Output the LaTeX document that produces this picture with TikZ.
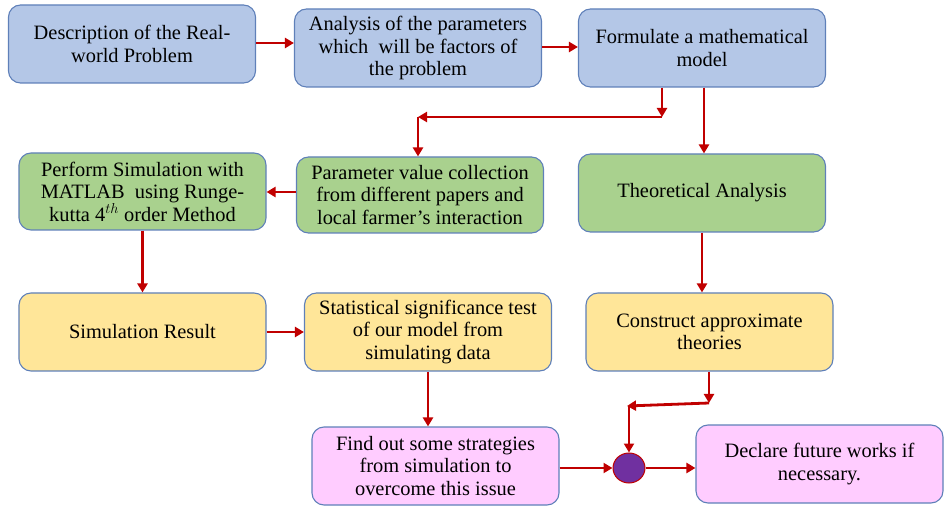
\documentclass[tikz,border=0pt]{standalone}
\usepackage{fontspec}
\setmainfont{Liberation Serif}
\usetikzlibrary{arrows.meta,shapes.geometric}
\definecolor{bluef}{RGB}{180,199,231}
\definecolor{greenf}{RGB}{169,209,142}
\definecolor{yellowf}{RGB}{255,230,153}
\definecolor{pinkf}{RGB}{255,204,255}
\definecolor{edgec}{RGB}{95,128,185}
\definecolor{arrowc}{RGB}{192,0,0}
\definecolor{purplef}{RGB}{112,48,160}
\tikzset{
  boxs/.style={draw=edgec, line width=1.1pt, rounded corners=12pt, align=center,
    minimum width=247pt, minimum height=78pt, inner sep=2pt,
    font=\fontsize{20.4}{22.5}\selectfont},
  conn/.style={draw=arrowc, line width=2.8pt, -{Triangle[length=9pt,width=10pt]}},
}
\begin{document}
\begin{tikzpicture}[x=1pt,y=-1pt]
\useasboundingbox (0,0) rectangle (951,521);
\node[boxs, fill=bluef] (b1) at (132,44) {Description of the Real-\\world Problem};
\node[boxs, fill=bluef] (b2) at (418,48) {Analysis of the parameters\\which\ \ will be factors of\\the problem};
\node[boxs, fill=bluef] (b3) at (702,48) {Formulate a mathematical\\model};
\node[boxs, fill=greenf, minimum height=77pt] (b4) at (142.5,191.5) {Perform Simulation with\\MATLAB\ \ using Runge-\\kutta 4$^{th}$ order Method};
\node[boxs, fill=greenf, minimum height=76pt] (b5) at (420,195) {Parameter value collection\\from different papers and\\local farmer’s interaction};
\node[boxs, fill=greenf] (b6) at (702,193) {Theoretical Analysis};
\node[boxs, fill=yellowf] (b7) at (142.5,332) {Simulation Result};
\node[boxs, fill=yellowf] (b8) at (428,332) {Statistical significance test\\of our model from\\simulating data};
\node[boxs, fill=yellowf] (b9) at (709.5,332) {Construct approximate\\theories};
\node[boxs, fill=pinkf] (b10) at (435.5,466) {Find out some strategies\\from simulation to\\overcome this issue};
\node[boxs, fill=pinkf] (b11) at (819.5,464) {Declare future works if\\necessary.};
\node[draw=arrowc, line width=1pt, fill=purplef, ellipse, minimum width=32pt, minimum height=30pt, inner sep=0pt] (circ) at (629,468) {};
\coordinate (c1) at (662,117);
\coordinate (c2) at (418,117);
\coordinate (c3) at (709,403);
\coordinate (c4) at (627,406);
\draw[conn] (b1.east |- 0,43) -- (b2.west |- 0,43);
\draw[conn] (b2.east |- 0,47) -- (b3.west |- 0,47);
\draw[conn] (b3.south -| c1) -- (c1);
\draw[conn] (c1) -- (c2);
\draw[conn] (c2) -- (b5.north -| c2);
\draw[conn] (b3.south -| 704,0) -- (b6.north -| 704,0);
\draw[conn] (b5.west |- 0,192) -- (b4.east |- 0,192);
\draw[conn] (b4.south) -- (b7.north);
\draw[conn] (b6.south) -- (b9.north -| b6.south);
\draw[conn] (b7.east) -- (b8.west);
\draw[conn] (b8.south) -- (b10.north -| b8.south);
\draw[conn] (b9.south -| c3) -- (c3);
\draw[conn] (c3) -- (c4);
\draw[conn] (c4 -| circ) -- (circ.north);
\draw[conn] (b10.east |- circ) -- (circ.west);
\draw[conn] (circ.east) -- (b11.west |- circ);
\end{tikzpicture}
\end{document}
